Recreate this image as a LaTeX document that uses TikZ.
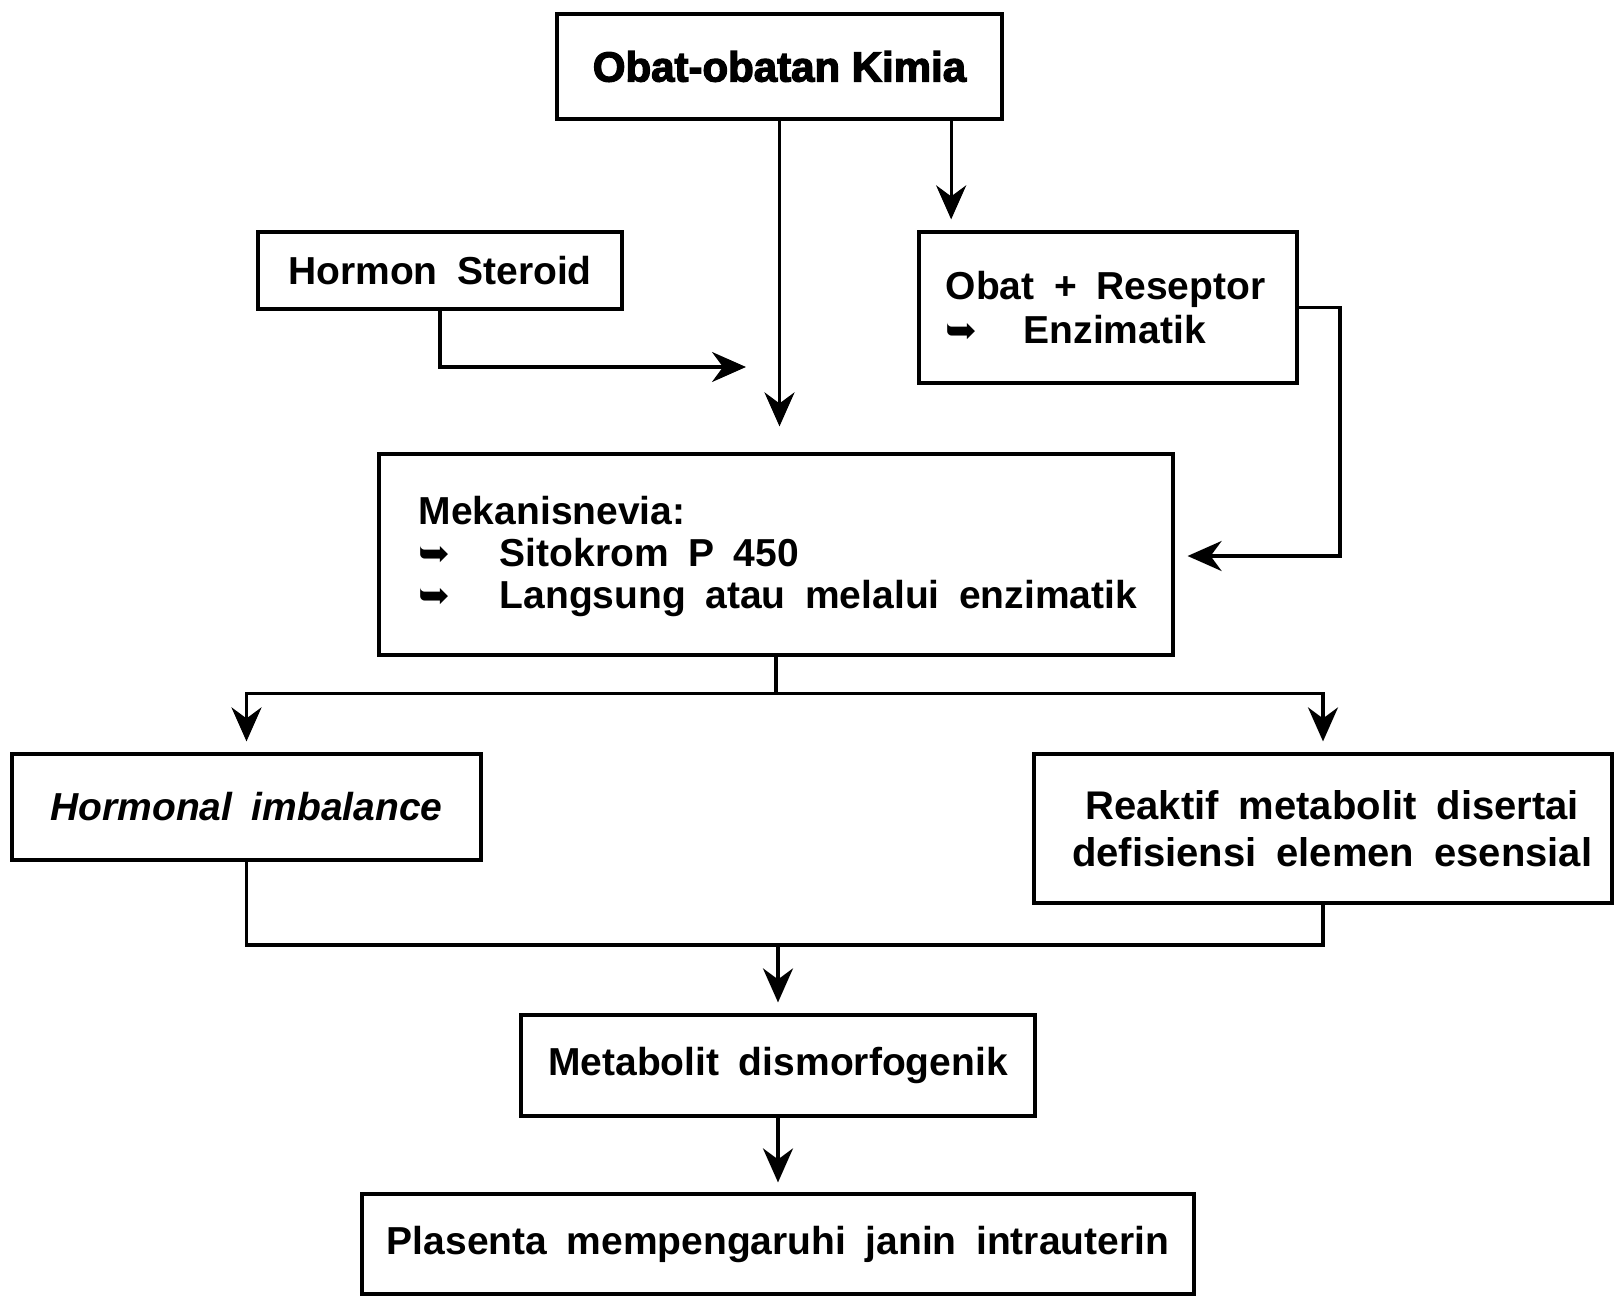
\documentclass[tikz,border=0pt]{standalone}
\usepackage{fontspec}
\setmainfont{Liberation Sans}[WordSpace=1.8]
\newfontfamily\headfont{Liberation Sans}[BoldFeatures={FakeBold=3}]
\newfontfamily\symfont{DejaVu Sans}
\usetikzlibrary{arrows.meta, calc}
% bullet arrow used in the lists
\newcommand{\itemarrow}[1]{\makebox[#1][l]{\symfont\fontsize{19}{19}\selectfont ➥}}
\begin{document}
\begin{tikzpicture}[x=0.5pt, y=-0.5pt,
  box/.style={draw, line width=1.6pt, inner sep=0pt},
  txt/.style={font=\fontsize{19.5}{22}\selectfont\bfseries},
  ln/.style={line width=1.6pt},
  arr/.style={line width=1.6pt, -{Stealth[length=17pt, width=15pt, inset=5.5pt]}}]
\useasboundingbox (0,0) rectangle (1614,1296);

% boxes
\node[box, minimum width=222.5pt, minimum height=52.5pt,
      font={\headfont\bfseries\fontsize{21}{24}\selectfont}] (kimia) at (779.5,66.5) {Obat-obatan Kimia};
\node[box, txt, minimum width=182pt, minimum height=38.5pt] (steroid) at (440,270.5) {Hormon Steroid};
\node[box, minimum width=189pt, minimum height=75.5pt] (reseptor) at (1108,307.5) {};
\node[anchor=west, align=left, inner sep=0pt, font={\fontsize{19.5}{22}\selectfont\bfseries}] (reseptortxt)
      at ([xshift=14pt]reseptor.west) {Obat + Reseptor\\\itemarrow{39pt}Enzimatik};
\node[box, minimum width=397pt, minimum height=100.5pt] (mekanis) at (776,554.5) {};
\node[anchor=west, align=left, inner sep=0pt, font={\fontsize{19.5}{21}\selectfont\bfseries}] (mekanistxt)
      at ([xshift=20.5pt,yshift=-1pt]mekanis.west)
      {Mekanisnevia:\\\itemarrow{40.5pt}Sitokrom P 450\\\itemarrow{40.5pt}Langsung atau melalui enzimatik};
\node[box, font={\fontsize{19.5}{22}\selectfont\bfseries\itshape}, minimum width=234.5pt, minimum height=53pt]
      (hormonal) at (246.5,807) {Hormonal imbalance};
\node[box, minimum width=289pt, minimum height=74.5pt] (reaktif) at (1323,828.5) {};
\node[align=center, inner sep=0pt, font={\fontsize{20}{23.5}\selectfont\bfseries}] (reaktiftxt)
      at ([xshift=4.6pt]reaktif.center) {Reaktif metabolit disertai\\defisiensi elemen esensial};
\node[box, txt, minimum width=257pt, minimum height=50.5pt] (metabolit) at (778,1065.5) {Metabolit dismorfogenik};
\node[box, txt, minimum width=416pt, minimum height=50pt] (plasenta) at (778,1244) {Plasenta mempengaruhi janin intrauterin};

% connectors
\draw[arr, shorten >=13pt] (kimia.south) -- (kimia.south |- mekanis.north);
\coordinate (kr) at ($(kimia.south east)!0.234!(kimia.south)$);
\draw[arr, shorten >=5.5pt] (kr) -- (kr |- reseptor.north);
\coordinate (sEnd) at (746,367);
\draw[arr] (steroid.south) |- (sEnd);
\coordinate (rBend) at (1340,556);
\draw[arr, shorten >=6.5pt] (reseptor.east) -| (rBend) -- (rBend -| mekanis.east);

\coordinate (split) at ($(mekanis.south)+(0,37)$);
\draw[ln] (mekanis.south) -- (split);
\draw[arr, shorten >=5.5pt] (split) -| (hormonal.north);
\draw[arr, shorten >=5.5pt] (split) -| (reaktif.north);

\coordinate (join) at (778,945);
\draw[ln] (hormonal.south) |- (join) -| (reaktif.south);
\draw[arr, shorten >=5.5pt] (join) -- (metabolit.north);
\draw[arr, shorten >=5pt] (metabolit.south) -- (plasenta.north);
\end{tikzpicture}
\end{document}
